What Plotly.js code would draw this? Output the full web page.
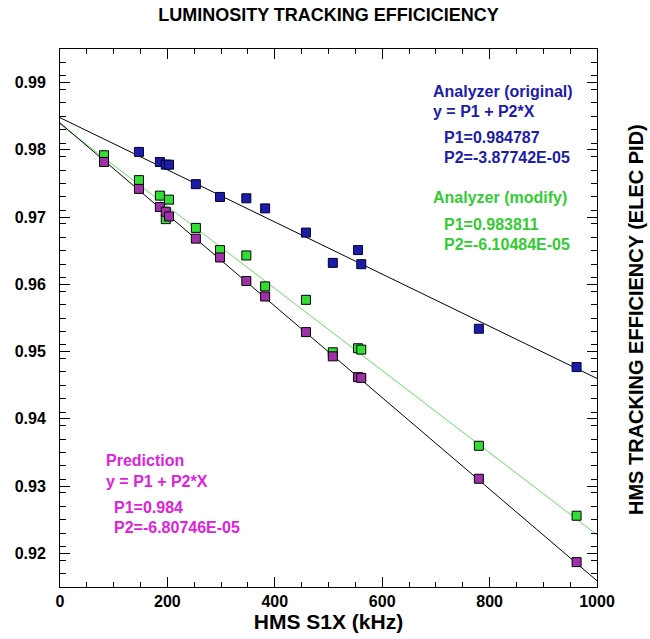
<!DOCTYPE html>
<html>
<head>
<meta charset="utf-8">
<script src="https://cdn.plot.ly/plotly-3.0.1.min.js"></script>
<style>html,body{margin:0;padding:0;background:#fff;}#chart{width:650px;height:639px;}</style>
</head>
<body>
<div id="chart"></div>
<script>
// Analyzer (original)
const origX = [147, 186, 197, 203, 253, 298, 347, 382, 458, 508, 555, 561, 780, 962];
const origY = [0.9797, 0.9782, 0.9778, 0.9778, 0.9749, 0.9730, 0.9728, 0.9713, 0.9677, 0.9632, 0.9651, 0.9630, 0.9534, 0.9477];
// Analyzer (modify)
const modX = [82, 147, 186, 197, 203, 253, 298, 347, 382, 458, 508, 555, 561, 780, 962];
const modY = [0.9792, 0.9755, 0.9732, 0.9697, 0.9726, 0.9684, 0.9651, 0.9643, 0.9597, 0.9577, 0.9499, 0.9505, 0.9503, 0.9360, 0.9256];
// Prediction
const predX = [82, 147, 186, 197, 203, 253, 298, 347, 382, 458, 508, 555, 561, 780, 962];
const predY = [0.9782, 0.9742, 0.9715, 0.9708, 0.9701, 0.9668, 0.9640, 0.9605, 0.9582, 0.9529, 0.9493, 0.9462, 0.9461, 0.9311, 0.9187];
// Fit lines (endpoints at x = 0 and 1000)
const fitX = [0, 1000];
const origFitY = [0.984787, 0.946013];
const modFitY = [0.983811, 0.922763];
const predFitY = [0.984000, 0.915925];

const xTicks = [0, 200, 400, 600, 800, 1000];
const yTicks = [0.92, 0.93, 0.94, 0.95, 0.96, 0.97, 0.98, 0.99];

const FONT = 'Liberation Sans, Arial, sans-serif';
const BLUE = '#1c1ca8', GREEN = '#33dd33', PURPLE = '#a030a8';

const traces = [
  {x: fitX, y: origFitY, mode: 'lines', line: {color: '#000', width: 1}, hoverinfo: 'skip'},
  {x: fitX, y: modFitY, mode: 'lines', line: {color: '#66dd66', width: 1}, hoverinfo: 'skip'},
  {x: fitX, y: predFitY, mode: 'lines', line: {color: '#000', width: 1}, hoverinfo: 'skip'},
  {x: origX, y: origY, mode: 'markers', marker: {symbol: 'square', size: 9, color: BLUE, line: {color: '#000030', width: 1}}},
  {x: modX, y: modY, mode: 'markers', marker: {symbol: 'square', size: 9, color: GREEN, line: {color: '#000', width: 1}}},
  {x: predX, y: predY, mode: 'markers', marker: {symbol: 'square', size: 9, color: PURPLE, line: {color: '#000', width: 1}}}
];

function ann(text, x, y, color, size) {
  return {text: text, x: x, y: y, xref: 'paper', yref: 'paper', xanchor: 'left', yanchor: 'middle',
          showarrow: false, font: {family: FONT, size: size || 16, color: color, weight: 'bold'}};
}
// paper coords: plot x 60..597, y 49..587 (pixels)
function px(p) { return (p - 60) / 537; }
function py(p) { return (587 - p) / 538; }

const layout = {
  width: 650, height: 639,
  margin: {l: 60, r: 53, t: 49, b: 52},
  paper_bgcolor: '#fff', plot_bgcolor: '#fff',
  showlegend: false,
  font: {family: FONT, color: '#000'},
  title: {text: 'LUMINOSITY TRACKING EFFICICIENCY', x: 0.5, xref: 'paper', y: 1 - 15 / 639, yref: 'container', yanchor: 'middle',
          font: {family: FONT, size: 18, weight: 'bold', color: '#000'}},
  xaxis: {
    range: [0, 1000], tickvals: xTicks, ticktext: xTicks.map(String),
    ticks: 'inside', ticklen: 10, tickcolor: '#000', tickwidth: 1,
    minor: {dtick: 50, ticks: 'inside', ticklen: 5, tickcolor: '#000', showgrid: false},
    showline: true, linecolor: '#000', linewidth: 1, mirror: 'allticks',
    showgrid: false, zeroline: false,
    tickfont: {family: FONT, size: 16, weight: 'bold', color: '#000'},
    ticklabelstandoff: 0,
    title: {text: 'HMS S1X (kHz)', standoff: 2, font: {family: FONT, size: 21, weight: 'bold', color: '#000'}}
  },
  yaxis: {
    range: [0.915, 0.995], tickvals: yTicks, ticktext: yTicks.map(v => v.toFixed(2)),
    ticks: 'inside', ticklen: 10, tickcolor: '#000', tickwidth: 1,
    minor: {dtick: 0.002, tick0: 0.915, ticks: 'inside', ticklen: 6, tickcolor: '#000', showgrid: false},
    showline: true, linecolor: '#000', linewidth: 1, mirror: 'allticks',
    showgrid: false, zeroline: false,
    tickfont: {family: FONT, size: 16, weight: 'bold', color: '#000'},
    ticklabelstandoff: 10
  },
  annotations: [
    ann('Analyzer (original)', px(431), py(91), BLUE),
    ann('y = P1 + P2*X', px(431), py(111), BLUE),
    ann('P1=0.984787', px(442), py(137), BLUE),
    ann('P2=-3.87742E-05', px(442), py(157), BLUE),
    ann('Analyzer (modify)', px(431), py(197), '#33cc33'),
    ann('P1=0.983811', px(442), py(224), '#33cc33'),
    ann('P2=-6.10484E-05', px(442), py(244), '#33cc33'),
    ann('Prediction', px(104), py(460), '#dd22dd'),
    ann('y = P1 + P2*X', px(104), py(481), '#dd22dd'),
    ann('P1=0.984', px(112), py(507), '#dd22dd'),
    ann('P2=-6.80746E-05', px(112), py(527), '#dd22dd'),
    {text: 'HMS TRACKING EFFICIENCY (ELEC PID)', x: px(636), y: py(320), xref: 'paper', yref: 'paper',
     xanchor: 'center', yanchor: 'middle', textangle: -90, showarrow: false,
     font: {family: FONT, size: 20, weight: 'bold', color: '#000'}}
  ]
};

Plotly.newPlot('chart', traces, layout, {displayModeBar: false, staticPlot: true});
</script>
</body>
</html>
